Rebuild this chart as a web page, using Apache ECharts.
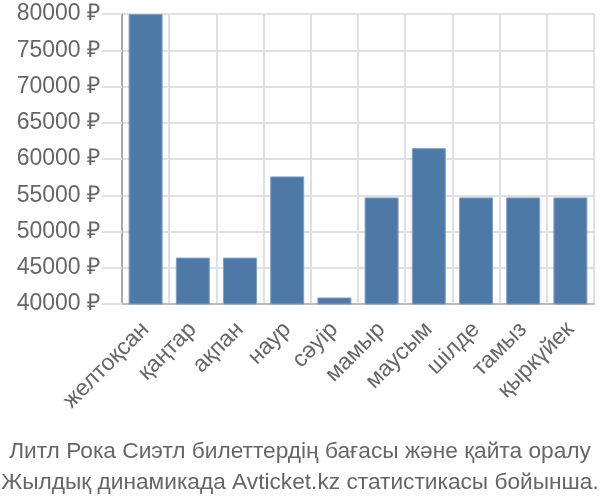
<!DOCTYPE html>
<html>
<head>
<meta charset="utf-8">
<script src="https://cdn.jsdelivr.net/npm/echarts@6/dist/echarts.min.js"></script>
<style>
  html, body { margin: 0; padding: 0; background: #fff; }
  #chart { width: 600px; height: 500px; }
</style>
</head>
<body>
<div id="chart"></div>
<script>
const months = ['желтоқсан', 'қаңтар', 'ақпан', 'наур', 'сәуір', 'мамыр', 'маусым', 'шілде', 'тамыз', 'қыркүйек'];
const prices = [80000, 46400, 46400, 57600, 40900, 54700, 61500, 54700, 54700, 54700];
const titleLines = [
    'Литл Рока Сиэтл билеттердің бағасы және қайта оралу',
    'Жылдық динамикада Avticket.kz статистикасы бойынша.'
];

const chart = echarts.init(document.getElementById('chart'));

const option = {
    animation: false,
    textStyle: { fontFamily: 'Liberation Sans, Arial, sans-serif' },
    title: {
        text: titleLines.join('\n'),
        left: 'center',
        top: 431,
        textStyle: {
            color: '#666',
            fontSize: 22.7,
            fontWeight: 'normal',
            lineHeight: 31
        }
    },
    grid: {
        left: 122,
        right: 6,
        top: 14,
        bottom: 196
    },
    xAxis: {
        type: 'category',
        data: months,
        axisLine: { lineStyle: { color: '#bbb', width: 2 } },
        axisTick: { length: 18, lineStyle: { color: '#ddd', width: 2 } },
        splitLine: { show: true, lineStyle: { color: '#e0e0e0', width: 2 } },
        axisLabel: {
            rotate: 45,
            color: '#666',
            fontSize: 23,
            margin: 22
        }
    },
    yAxis: {
        type: 'value',
        min: 40000,
        max: 80000,
        interval: 5000,
        axisLine: { show: true, lineStyle: { color: '#aaa', width: 2 } },
        axisTick: { show: true, length: 20, lineStyle: { color: '#e0e0e0', width: 2 } },
        splitLine: { lineStyle: { color: '#e0e0e0', width: 2 } },
        axisLabel: {
            color: '#666',
            fontSize: 23,
            margin: 22,
            formatter: function (v) { return v + ' ₽'; }
        }
    },
    series: [{
        type: 'bar',
        data: prices,
        barWidth: '72%',
        itemStyle: {
            color: '#4e79a7',
            borderColor: '#7f9fc4',
            borderWidth: 1
        }
    }]
};

chart.setOption(option);

window.addEventListener('resize', function () {
    chart.resize();
});
</script>
</body>
</html>
